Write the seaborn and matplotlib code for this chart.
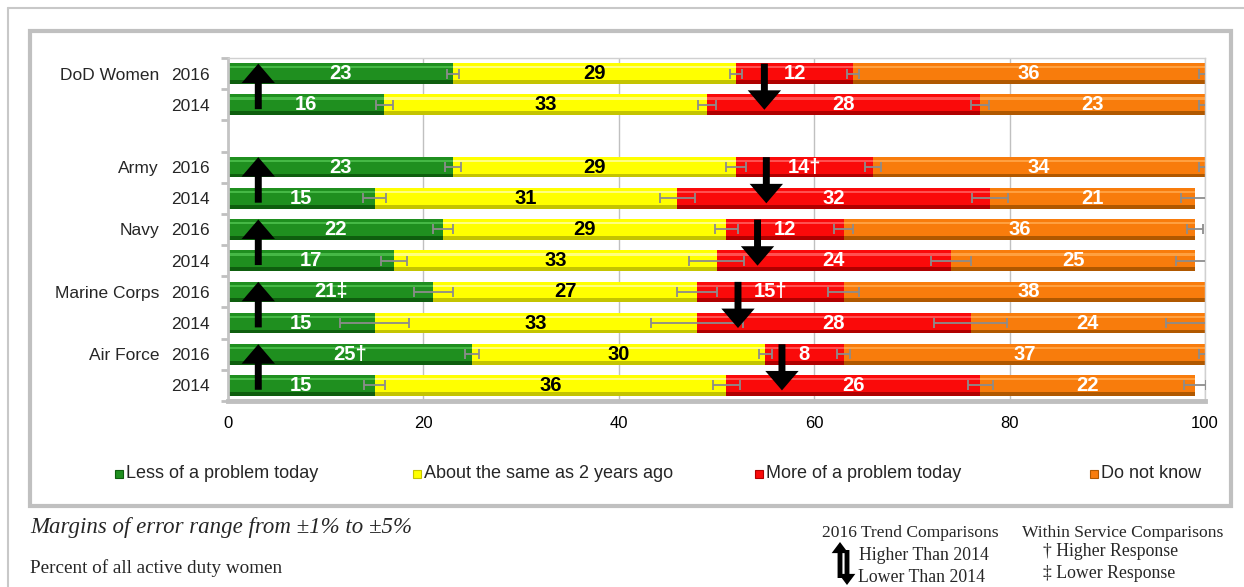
import numpy as np
import seaborn as sns
import matplotlib.pyplot as plt
import matplotlib.transforms as mtransforms
from matplotlib.patches import Rectangle
from matplotlib.lines import Line2D

# rows: 2016 / 2014 for each group, top to bottom
groups = ["DoD Women", "Army", "Navy", "Marine Corps", "Air Force"]
years = ["2016", "2014"] * 5
less = [23, 16, 23, 15, 22, 17, 21, 15, 25, 15]
same = [29, 33, 29, 31, 29, 33, 27, 33, 30, 36]
more = [12, 28, 14, 32, 12, 24, 15, 28, 8, 26]
dont_know = [36, 23, 34, 21, 36, 25, 38, 24, 37, 22]
less_marks = ["", "", "", "", "", "", "\u2021", "", "\u2020", ""]
more_marks = ["", "", "\u2020", "", "", "", "\u2020", "", "", ""]

# margins of error at the end of each segment
err_less = [0.6, 0.9, 0.8, 1.2, 1.0, 1.3, 2.0, 3.5, 0.7, 1.1]
err_same = [0.6, 0.9, 1.0, 1.8, 1.2, 2.8, 2.0, 4.7, 0.7, 1.4]
err_more = [0.6, 0.9, 0.8, 1.8, 1.0, 2.0, 1.6, 3.7, 0.7, 1.3]
err_dk = [0.6, 0.6, 0.6, 1.5, 0.8, 2.0, 0.6, 4.0, 0.6, 1.1]

# trend arrows (x position of the up / down arrow in each group)
up_arrow_x = [3.1, 3.1, 3.1, 3.1, 3.1]
down_arrow_x = [54.9, 55.1, 54.2, 52.2, 56.7]

series_names = ["Less of a problem today", "About the same as 2 years ago",
                "More of a problem today", "Do not know"]
# base, dark, light
palette = {
    "green": ("#1f8f1f", "#0e5e0e", "#45b845"),
    "yellow": ("#ffff00", "#c4c400", "#ffff80"),
    "red": ("#fa0a0a", "#b00000", "#ff5050"),
    "orange": ("#f87c0c", "#b05800", "#ffa040"),
}
color_order = ["green", "yellow", "red", "orange"]

sns.set_theme(style="white")
plt.rcParams["font.family"] = ["Liberation Sans", "DejaVu Sans"]

W, H = 1244, 587
fig = plt.figure(figsize=(W / 100, H / 100), dpi=100)
ax = fig.add_axes([228 / W, 1 - 401 / H, (1205 - 228) / W, (401 - 58) / H])

pos = np.array([0, 1, 3, 4, 5, 6, 7, 8, 9, 10])
vals = [np.array(v) for v in (less, same, more, dont_know)]
cums = np.cumsum(vals, axis=0)
bar_h = 0.66

# stacked bars drawn as overlapping cumulative totals, widest first
for i in range(3, -1, -1):
    base, dark, light = palette[color_order[i]]
    sns.barplot(x=cums[i], y=pos, orient="y", native_scale=True, width=bar_h,
                color=base, saturation=1, errorbar=None, ax=ax, zorder=2,
                edgecolor="none")
    ax.barh(pos + 0.27, cums[i], height=0.12, color=dark, zorder=2.1, lw=0)
    ax.barh(pos - 0.20, cums[i], height=0.07, color=light, zorder=2.1, lw=0)

for cum, err in zip(cums, (err_less, err_same, err_more, err_dk)):
    ax.errorbar(cum, pos, xerr=err, fmt="none", ecolor="#8c8c8c",
                elinewidth=1.3, capsize=3.5, capthick=1.3, zorder=4)

# value labels
marks = [less_marks, [""] * 10, more_marks, [""] * 10]
txt_colors = ["white", "black", "white", "white"]
for i in range(4):
    starts = cums[i] - vals[i]
    for j in range(len(pos)):
        ax.text(starts[j] + vals[i][j] / 2, pos[j], f"{vals[i][j]}{marks[i][j]}",
                ha="center", va="center", fontsize=14.5, fontweight="bold",
                color=txt_colors[i], zorder=5)

# trend arrows
arrow_style = "simple,head_length=1.4,head_width=2.4,tail_width=0.5"
for g in range(5):
    p16, p14 = pos[2 * g], pos[2 * g + 1]
    ax.annotate("", xy=(up_arrow_x[g], p16 - 0.32), xytext=(up_arrow_x[g], p14 + 0.14),
                arrowprops=dict(arrowstyle=arrow_style, fc="black", ec="none",
                                mutation_scale=10, shrinkA=0, shrinkB=0), zorder=6)
    ax.annotate("", xy=(down_arrow_x[g], p14 + 0.16), xytext=(down_arrow_x[g], p16 - 0.32),
                arrowprops=dict(arrowstyle=arrow_style, fc="black", ec="none",
                                mutation_scale=10, shrinkA=0, shrinkB=0), zorder=6)

ax.set_xlim(0, 100)
ax.set_ylim(10.5, -0.45)
ax.set_xticks(range(0, 101, 20))
ax.set_xticklabels([str(t) for t in range(0, 101, 20)], fontsize=12)
ax.set_yticks(pos)
ax.set_yticklabels(years, fontsize=12.5)
ax.set_yticks(np.arange(-0.5, 10.6, 1), minor=True)
ax.tick_params(axis="x", length=0, pad=11, colors="black")
ax.tick_params(axis="y", which="major", length=0, pad=13)
ax.tick_params(axis="y", which="minor", length=5, width=2, color="#c0c0c0", left=True)
ax.set_xlabel("")
ax.set_ylabel("")
ax.grid(axis="x", color="#c0c0c0", lw=1)
ax.set_axisbelow(True)
for side, lw, c in (("left", 2, "#c4c4c4"), ("bottom", 3.5, "#bfbfbf"),
                    ("top", 1, "#d0d0d0"), ("right", 1, "#d0d0d0")):
    ax.spines[side].set_linewidth(lw)
    ax.spines[side].set_color(c)

trans = mtransforms.blended_transform_factory(ax.transAxes, ax.transData)
for g, name in enumerate(groups):
    ax.text(-0.0706, pos[2 * g], name, transform=trans, ha="right",
            va="center_baseline", fontsize=12.5)

# legend drawn by hand to match the spacing of the original
legend_x = [115, 413, 755, 1090]
for x, name, key in zip(legend_x, series_names, color_order):
    base, dark, light = palette[key]
    fig.add_artist(Rectangle((x / W, 1 - 478 / H), 8 / W, 8 / H, transform=fig.transFigure,
                             fc=base, ec=dark, lw=0.8))
    fig.text((x + 11) / W, 1 - 474 / H, name, ha="left", va="center", fontsize=13)

# frames
fig.add_artist(Line2D([8 / W, 1], [1 - 8 / H, 1 - 8 / H], transform=fig.transFigure,
                      color="#c8c8c8", lw=1.5))
fig.add_artist(Line2D([8 / W, 8 / W], [0, 1 - 8 / H], transform=fig.transFigure,
                      color="#c8c8c8", lw=1.5))
fig.add_artist(Rectangle((30 / W, 1 - 506 / H), (1231 - 30) / W, (506 - 31) / H,
                         transform=fig.transFigure, fill=False, ec="#c0c0c0", lw=3))

# notes below the chart
serif = ["Liberation Serif", "DejaVu Serif"]
fig.text(30 / W, 1 - 527 / H, "Margins of error range from \u00b11% to \u00b15%",
         family=serif, style="italic", fontsize=16.5, va="center")
fig.text(30 / W, 1 - 568 / H, "Percent of all active duty women", family=serif,
         fontsize=13.8, va="center")
fig.text(822 / W, 1 - 533 / H, "2016 Trend Comparisons", family=serif, fontsize=12.6,
         va="center")
fig.text(859 / W, 1 - 556 / H, "Higher Than 2014", family=serif, fontsize=12.8, va="center")
fig.text(858 / W, 1 - 577 / H, "Lower Than 2014", family=serif, fontsize=12.8, va="center")
fig.text(1022 / W, 1 - 533 / H, "Within Service Comparisons", family=serif, fontsize=12.6,
         va="center")
fig.text(1043 / W, 1 - 552 / H, "\u2020 Higher Response", family=serif, fontsize=12.8,
         va="center")
fig.text(1043 / W, 1 - 573 / H, "\u2021 Lower Response", family=serif, fontsize=12.8,
         va="center")

icon_style = "simple,head_length=0.8,head_width=1.2,tail_width=0.35"
ax.annotate("", xy=(840, H - 542), xycoords="figure pixels", xytext=(840, H - 578),
            textcoords="figure pixels",
            arrowprops=dict(arrowstyle=icon_style, fc="black", ec="none",
                            mutation_scale=10, shrinkA=0, shrinkB=0))
ax.annotate("", xy=(847, H - 585), xycoords="figure pixels", xytext=(847, H - 550),
            textcoords="figure pixels",
            arrowprops=dict(arrowstyle=icon_style, fc="black", ec="none",
                            mutation_scale=10, shrinkA=0, shrinkB=0))

fig.savefig("out.png", dpi=100)
